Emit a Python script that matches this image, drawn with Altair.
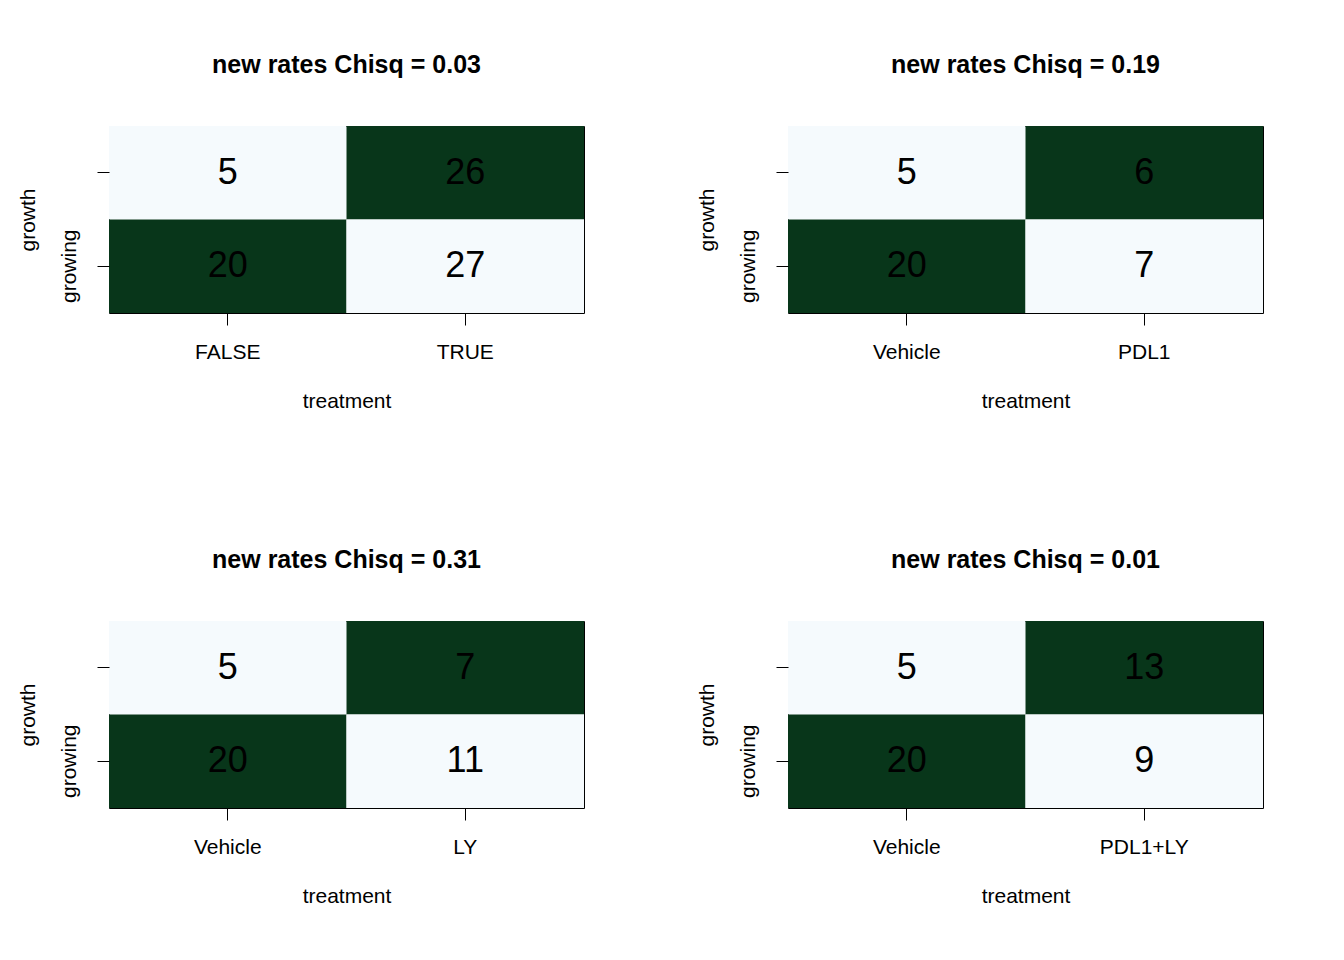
import altair as alt
import pandas as pd

titles = ["new rates Chisq = 0.03", "new rates Chisq = 0.19",
          "new rates Chisq = 0.31", "new rates Chisq = 0.01"]
left_labels = ["FALSE", "Vehicle", "Vehicle", "Vehicle"]
right_labels = ["TRUE", "PDL1", "LY", "PDL1+LY"]
# counts: [top-left, top-right, bottom-left, bottom-right]
counts = [[5, 26, 20, 27], [5, 6, 20, 7], [5, 7, 20, 11], [5, 13, 20, 9]]
shade = [0, 1, 1, 0]
rows = ["top", "top", "growing", "growing"]
cols = [0, 1, 0, 1]

FONT = "Liberation Sans"


def panel(i):
    xl = [left_labels[i], right_labels[i]]
    df = pd.DataFrame({
        "treatment": [xl[c] for c in cols],
        "growth": rows,
        "n": counts[i],
        "shade": shade,
    })
    base = alt.Chart(df).encode(
        x=alt.X("treatment:N", sort=xl, title="treatment",
                axis=alt.Axis(labelAngle=0, domain=False, tickSize=12,
                              tickColor="black", labelPadding=16,
                              titlePadding=28)),
        y=alt.Y("growth:N", sort=["top", "growing"], title="growth",
                axis=alt.Axis(domain=False, tickSize=12, tickColor="black",
                              labelAngle=-90, labelAlign="center",
                              labelBaseline="bottom", labelPadding=18,
                              titlePadding=20,
                              labelExpr="datum.value == 'growing' ? 'growing' : ''")),
    )
    rect = base.mark_rect().encode(
        color=alt.Color("shade:O", legend=None,
                        scale=alt.Scale(domain=[0, 1], range=["#F5FAFD", "#08361A"]))
    )
    text = base.mark_text(fontSize=36, font=FONT, color="black").encode(text="n:Q")
    return (rect + text).properties(
        width=475, height=187,
        title=alt.TitleParams(titles[i], fontSize=25, font=FONT, fontWeight="bold",
                              offset=48),
    )


chart = alt.vconcat(
    alt.hconcat(panel(0), panel(1), spacing=110),
    alt.hconcat(panel(2), panel(3), spacing=110),
    spacing=135,
).configure_view(stroke="black", strokeWidth=1).configure_axis(
    labelFont=FONT, titleFont=FONT, labelFontSize=21, titleFontSize=21,
    labelColor="black", titleColor="black", titleFontWeight="normal", grid=False,
).configure_scale(bandPaddingInner=0, bandPaddingOuter=0).properties(
    padding={"left": 8, "top": 44, "right": 5, "bottom": 5}, background="white"
)

chart.save("out.html", embed_options={"renderer": "svg", "actions": False})
